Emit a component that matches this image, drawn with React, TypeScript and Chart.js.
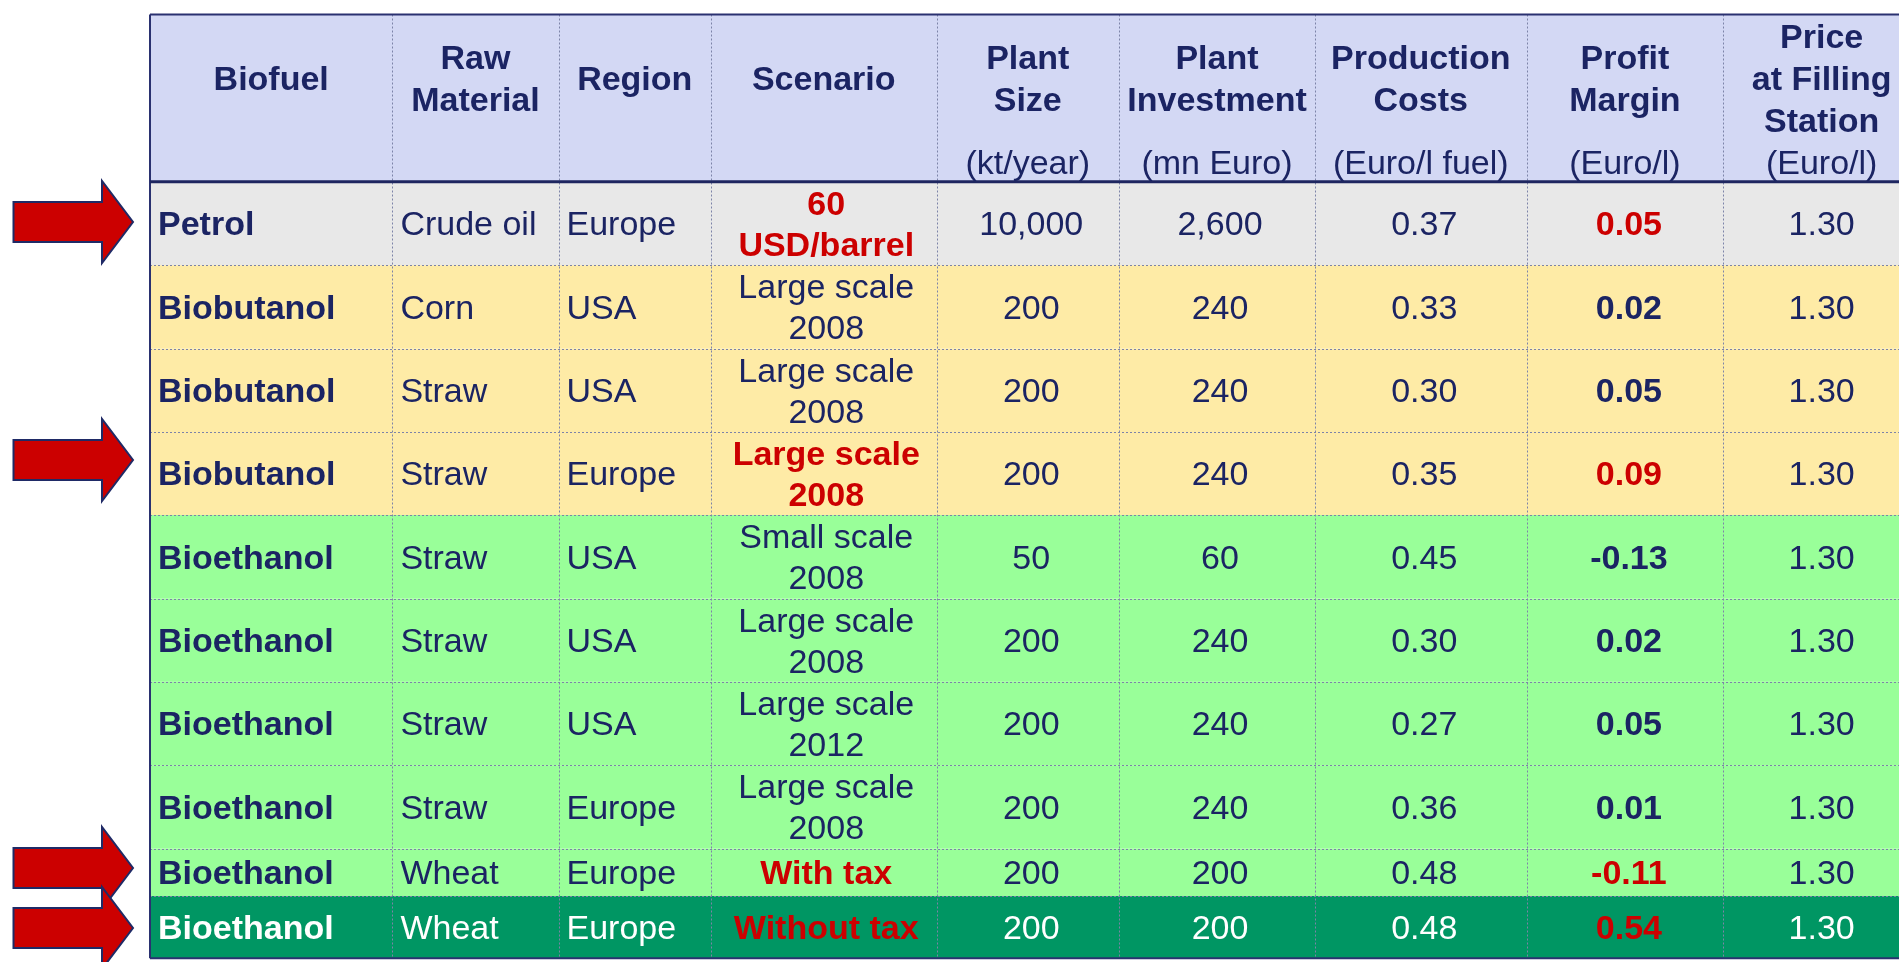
import React, { useEffect, useRef } from "react";
import { Chart, registerables } from "chart.js";

Chart.register(...registerables);

// ---------- DATA ----------
const headerTitles = [
  "Biofuel",
  "Raw\nMaterial",
  "Region",
  "Scenario",
  "Plant\nSize",
  "Plant\nInvestment",
  "Production\nCosts",
  "Profit\nMargin",
  "Price\nat Filling\nStation",
];
const headerUnits = ["", "", "", "", "(kt/year)", "(mn Euro)", "(Euro/l fuel)", "(Euro/l)", "(Euro/l)"];

const biofuels = [
  "Petrol",
  "Biobutanol",
  "Biobutanol",
  "Biobutanol",
  "Bioethanol",
  "Bioethanol",
  "Bioethanol",
  "Bioethanol",
  "Bioethanol",
  "Bioethanol",
];
const rawMaterials = ["Crude oil", "Corn", "Straw", "Straw", "Straw", "Straw", "Straw", "Straw", "Wheat", "Wheat"];
const regions = ["Europe", "USA", "USA", "Europe", "USA", "USA", "USA", "Europe", "Europe", "Europe"];
const scenarios = [
  "60\nUSD/barrel",
  "Large scale\n2008",
  "Large scale\n2008",
  "Large scale\n2008",
  "Small scale\n2008",
  "Large scale\n2008",
  "Large scale\n2012",
  "Large scale\n2008",
  "With tax",
  "Without tax",
];
const plantSizes = ["10,000", "200", "200", "200", "50", "200", "200", "200", "200", "200"];
const plantInvestments = ["2,600", "240", "240", "240", "60", "240", "240", "240", "200", "200"];
const productionCosts = [0.37, 0.33, 0.3, 0.35, 0.45, 0.3, 0.27, 0.36, 0.48, 0.48];
const profitMargins = [0.05, 0.02, 0.05, 0.09, -0.13, 0.02, 0.05, 0.01, -0.11, 0.54];
const fillingPrices = [1.3, 1.3, 1.3, 1.3, 1.3, 1.3, 1.3, 1.3, 1.3, 1.3];
const highlighted = [true, false, false, true, false, false, false, false, true, true];

// ---------- LAYOUT / STYLE ----------
const COL_EDGES = [150, 392.4, 558.5, 711, 936.5, 1119, 1315, 1526.5, 1723.3, 1920];
const BODY_COL_SHIFT = [0, 0, 0, 2.5, 3.5, 3, 3.5, 4, 0];
const ROW_EDGES = [14.5, 181.7, 265.2, 348.5, 432, 515, 598.5, 681.8, 765.2, 848.5, 896, 958.3];
const ARROW_TIP_Y = [222, 460, 868, 928];
const ROW_FILLS = [
  "#E8E8E8",
  "#FEEBA6",
  "#FEEBA6",
  "#FEEBA6",
  "#99FF99",
  "#99FF99",
  "#99FF99",
  "#99FF99",
  "#99FF99",
  "#009663",
];
const HEADER_FILL = "#D3D8F4";
const NAVY = "#1B2463";
const RED = "#CC0000";
const GRID = "#7D83A8";
const FONT = '"Liberation Sans", Arial, sans-serif';
const FS = 34;
const HEAD_LINE = 42;
const BODY_LINE = 41;
const TEXT_SHIFT = 2.5;

const tablePlugin = {
  id: "tablePlugin",
  afterDraw(chart: any) {
    const ctx: CanvasRenderingContext2D = chart.ctx;
    const xs = chart.scales.x;
    const ys = chart.scales.y;
    const px = (v: number) => xs.getPixelForValue(v);
    const py = (v: number) => ys.getPixelForValue(v);
    const left = px(COL_EDGES[0]);
    const right = px(COL_EDGES[COL_EDGES.length - 1]);
    const top = py(ROW_EDGES[0]);
    const bottom = py(ROW_EDGES[ROW_EDGES.length - 1]);

    ctx.save();
    // header background
    ctx.fillStyle = HEADER_FILL;
    ctx.fillRect(left, top, right - left, py(ROW_EDGES[1]) - top);
    // row backgrounds
    for (let r = 0; r < biofuels.length; r++) {
      const y0 = py(ROW_EDGES[r + 1]);
      const y1 = py(ROW_EDGES[r + 2]);
      ctx.fillStyle = ROW_FILLS[r];
      ctx.fillRect(left, y0, right - left, y1 - y0);
    }

    // dotted grid
    ctx.strokeStyle = GRID;
    ctx.lineWidth = 1;
    ctx.setLineDash([2, 2]);
    for (let c = 1; c < COL_EDGES.length - 1; c++) {
      const x = Math.round(px(COL_EDGES[c])) + 0.5;
      ctx.beginPath();
      ctx.moveTo(x, top);
      ctx.lineTo(x, bottom);
      ctx.stroke();
    }
    for (let r = 2; r < ROW_EDGES.length - 1; r++) {
      const y = Math.round(py(ROW_EDGES[r])) + 0.5;
      ctx.beginPath();
      ctx.moveTo(left, y);
      ctx.lineTo(right, y);
      ctx.stroke();
    }
    ctx.setLineDash([]);

    // solid borders
    ctx.strokeStyle = "#2A3170";
    ctx.lineWidth = 2;
    ctx.beginPath();
    ctx.moveTo(left, top);
    ctx.lineTo(right, top);
    ctx.moveTo(left, top);
    ctx.lineTo(left, bottom);
    ctx.moveTo(left, bottom);
    ctx.lineTo(right, bottom);
    ctx.stroke();
    ctx.lineWidth = 3;
    ctx.strokeStyle = "#1E2660";
    ctx.beginPath();
    ctx.moveTo(left, py(ROW_EDGES[1]));
    ctx.lineTo(right, py(ROW_EDGES[1]));
    ctx.stroke();

    const drawLines = (
      text: string,
      cx: number,
      cy: number,
      align: CanvasTextAlign,
      font: string,
      color: string,
      lineH: number
    ) => {
      const lines = text.split("\n");
      ctx.font = font;
      ctx.fillStyle = color;
      ctx.textAlign = align;
      ctx.textBaseline = "middle";
      const start = cy - ((lines.length - 1) * lineH) / 2 + TEXT_SHIFT;
      lines.forEach((ln, i) => ctx.fillText(ln, cx, start + i * lineH));
    };

    const bold = `bold ${FS}px ${FONT}`;
    const normal = `${FS}px ${FONT}`;

    // header
    for (let c = 0; c < headerTitles.length; c++) {
      const cx = px((COL_EDGES[c] + COL_EDGES[c + 1]) / 2);
      drawLines(headerTitles[c], cx, py(78.5), "center", bold, NAVY, HEAD_LINE);
      if (headerUnits[c]) drawLines(headerUnits[c], cx, py(162.5), "center", normal, NAVY, HEAD_LINE);
    }

    // body
    for (let r = 0; r < biofuels.length; r++) {
      const cy = (py(ROW_EDGES[r + 1]) + py(ROW_EDGES[r + 2])) / 2;
      const dark = ROW_FILLS[r] === "#009663";
      const txt = dark ? "#FFFFFF" : NAVY;
      const cc = (c: number) => px((COL_EDGES[c] + COL_EDGES[c + 1]) / 2 + BODY_COL_SHIFT[c]);
      const L = BODY_LINE;
      drawLines(biofuels[r], px(COL_EDGES[0] + 8), cy, "left", bold, txt, L);
      drawLines(rawMaterials[r], px(COL_EDGES[1] + 8), cy, "left", normal, txt, L);
      drawLines(regions[r], px(COL_EDGES[2] + 8), cy, "left", normal, txt, L);
      drawLines(scenarios[r], cc(3), cy, "center", highlighted[r] ? bold : normal, highlighted[r] ? RED : txt, L);
      drawLines(plantSizes[r], cc(4), cy, "center", normal, txt, L);
      drawLines(plantInvestments[r], cc(5), cy, "center", normal, txt, L);
      drawLines(productionCosts[r].toFixed(2), cc(6), cy, "center", normal, txt, L);
      drawLines(profitMargins[r].toFixed(2), cc(7), cy, "center", bold, highlighted[r] ? RED : txt, L);
      drawLines(fillingPrices[r].toFixed(2), cc(8), cy, "center", normal, txt, L);
    }

    // arrows
    ARROW_TIP_Y.forEach((ty) => {
      const tip = py(ty);
      const x0 = px(13.5);
      const xb = px(102);
      const xt = px(133);
      const sh = 20;
      const hh = 41;
      ctx.beginPath();
      ctx.moveTo(x0, tip - sh);
      ctx.lineTo(xb, tip - sh);
      ctx.lineTo(xb, tip - hh);
      ctx.lineTo(xt, tip);
      ctx.lineTo(xb, tip + hh);
      ctx.lineTo(xb, tip + sh);
      ctx.lineTo(x0, tip + sh);
      ctx.closePath();
      ctx.fillStyle = RED;
      ctx.fill();
      ctx.lineWidth = 2;
      ctx.strokeStyle = "#1F2A66";
      ctx.lineJoin = "miter";
      ctx.stroke();
    });

    ctx.restore();
  },
};

export default function App() {
  const canvasRef = useRef<HTMLCanvasElement | null>(null);

  useEffect(() => {
    if (!canvasRef.current) return;
    const chart = new Chart(canvasRef.current, {
      type: "scatter",
      data: { datasets: [] },
      options: {
        animation: false,
        responsive: true,
        maintainAspectRatio: false,
        devicePixelRatio: 1,
        layout: { padding: 0 },
        plugins: { legend: { display: false }, tooltip: { enabled: false } },
        scales: {
          x: { type: "linear", min: 0, max: 1899, display: false },
          y: { type: "linear", min: 0, max: 962, reverse: true, display: false },
        },
      },
      plugins: [tablePlugin],
    });
    return () => chart.destroy();
  }, []);

  return (
    <div style={{ position: "fixed", left: 0, top: 0, width: 1899, height: 962, background: "#FFFFFF" }}>
      <canvas ref={canvasRef} />
    </div>
  );
}
